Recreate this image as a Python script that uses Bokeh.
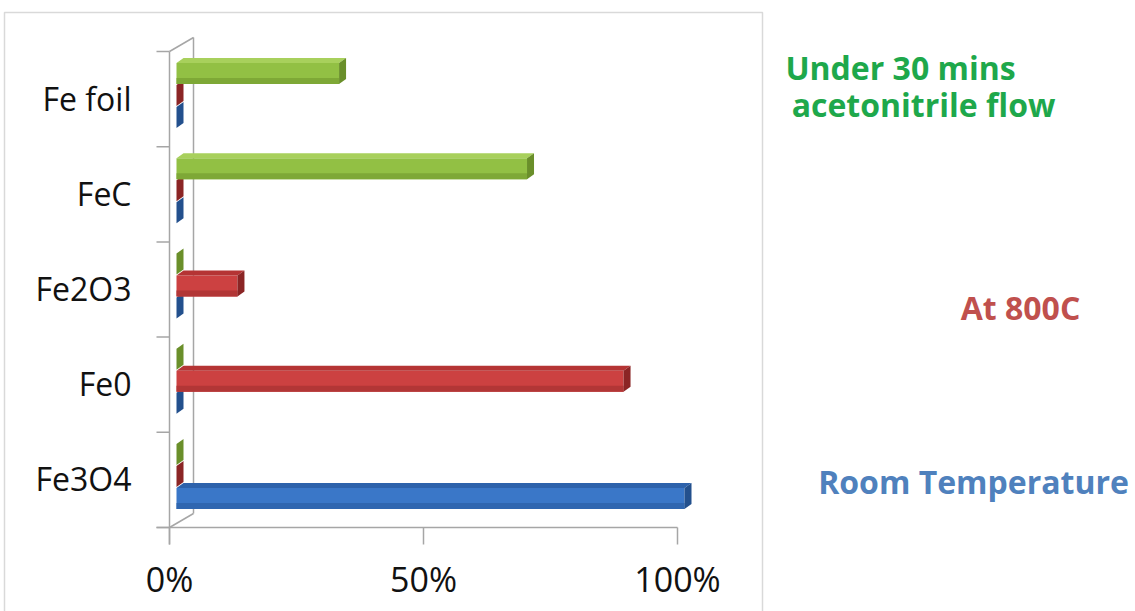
from bokeh.plotting import figure
from bokeh.models import Range1d
from bokeh.core.properties import value
from bokeh.embed import file_html
from bokeh.resources import INLINE

# ---------------- data ----------------
categories = ["Fe3O4", "Fe0", "Fe2O3", "FeC", "Fe foil"]
room_temperature = [100, 0, 0, 0, 0]
at_800c = [0, 88, 12, 0, 0]
acetonitrile_flow = [0, 0, 0, 69, 32]
x_ticks = [0, 50, 100]
x_tick_labels = ["0%", "50%", "100%"]
note_lines = ["Under 30 mins", "acetonitrile flow", "At 800C", "Room Temperature"]

# ---------------- layout constants (pixels) ----------------
W, H = 1135, 611
X0 = 169.0      # px of 0 %
PXX = 5.08      # px per percent
Y0 = 527.0      # px of lower category boundary
PXY = 95.2      # px per category


def xd(px):
    return (px - X0) / PXX


def yd(py):
    return (Y0 - py) / PXY - 0.5


p = figure(width=W, height=H, output_backend="svg", toolbar_location=None,
           title=None, x_axis_location=None, y_axis_location=None,
           x_range=Range1d(xd(0), xd(W)), y_range=Range1d(yd(H), yd(0)),
           min_border=0)
p.outline_line_color = None
p.background_fill_color = "white"
p.border_fill_color = "white"
p.grid.visible = False

# chart area border
p.quad(left=[xd(4)], right=[xd(762)], top=[yd(12)], bottom=[yd(680)],
       fill_color=None, line_color="#d9d9d9", line_width=1.5)

# ---------------- 3-D walls / axis lines ----------------
gray = "#a6a6a6"
n = len(categories)
WDX, WDY = 24 / PXX, 14 / PXY        # back wall offset
y_lo, y_hi = -0.5, n - 0.5
p.segment(x0=[0], y0=[yd(544)], x1=[0], y1=[y_hi], line_color=gray, line_width=1.5)
p.segment(x0=[WDX], y0=[y_lo + WDY], x1=[WDX], y1=[y_hi + WDY], line_color=gray, line_width=1.5)
p.segment(x0=[0, 0], y0=[y_lo, y_hi], x1=[WDX, WDX], y1=[y_lo + WDY, y_hi + WDY],
          line_color=gray, line_width=1.5)
bounds = [b - 0.5 for b in range(n + 1)]
p.segment(x0=[xd(156)] * len(bounds), y0=bounds, x1=[0] * len(bounds), y1=bounds,
          line_color=gray, line_width=1.5)
p.segment(x0=[xd(156)], y0=[y_lo], x1=[max(x_ticks)], y1=[y_lo], line_color=gray, line_width=1.5)
p.segment(x0=x_ticks, y0=[y_lo] * len(x_ticks), x1=x_ticks, y1=[yd(544)] * len(x_ticks),
          line_color=gray, line_width=1.5)

# axis labels
p.text(x=x_ticks, y=[yd(578)] * len(x_ticks), text=x_tick_labels,
       text_font=value("Open Sans"), text_font_size="34px", text_color="#111111",
       text_align="center", text_baseline="middle")
p.text(x=[xd(131)] * n, y=[i + 0.01 for i in range(n)], text=categories,
       text_font=value("Open Sans"), text_font_size="32px", text_color="#111111",
       text_align="right", text_baseline="middle")

# ---------------- 3-D bars ----------------
SX = 7 / PXX
DDX, DDY = 7 / PXX, 5 / PXY
series = [
    (room_temperature, (8, 29), "#3a77c8", "#2d62ab", "#23508d", "#2f66b0"),
    (at_800c, (-14, 7), "#cc4141", "#b53434", "#8b2525", "#b23636"),
    (acetonitrile_flow, (-36, -15), "#92c044", "#a8d05c", "#6a8f2a", "#7ea836"),
]
for vals, (dtop, dbot), c_front, c_top, c_cap, c_shade in series:
    left, right, bottom, top, shade_top = [], [], [], [], []
    txs, tys, cxs, cys = [], [], [], []
    for i, v in enumerate(vals):
        t = i - dtop / PXY
        b = i - dbot / PXY
        x0, x1 = SX, v + SX
        left.append(x0); right.append(x1); bottom.append(b); top.append(t)
        shade_top.append(b + 6 / PXY)
        txs.append([x0, x1, x1 + DDX, x0 + DDX])
        tys.append([t, t, t + DDY, t + DDY])
        cxs.append([x1, x1, x1 + DDX, x1 + DDX])
        cys.append([b, t, t + DDY, b + DDY])
    p.quad(left=left, right=right, bottom=bottom, top=top,
           fill_color=c_front, line_color=None)
    p.quad(left=left, right=right, bottom=bottom, top=shade_top,
           fill_color=c_shade, line_color=None)
    p.patches(xs=txs, ys=tys, fill_color=c_top, line_color=None)
    p.patches(xs=cxs, ys=cys, fill_color=c_cap, line_color=None)

# ---------------- series annotations ----------------
note_px = [(900, 67), (923, 104), (1020, 307), (973, 481)]
note_colors = ["#1ea84b", "#1ea84b", "#c0504d", "#4f81bd"]
p.text(x=[xd(a) for a, _ in note_px], y=[yd(b) for _, b in note_px], text=note_lines,
       text_color=note_colors, text_font=value("Open Sans"), text_font_style="bold",
       text_font_size="32px", text_align="center", text_baseline="middle")

open("out.html", "w").write(file_html(p, INLINE))
